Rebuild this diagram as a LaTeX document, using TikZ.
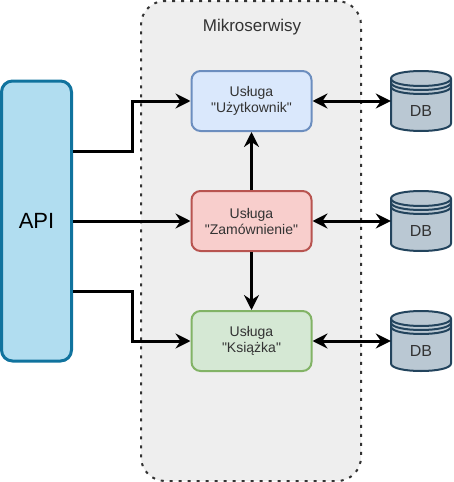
\documentclass[tikz,border=0pt]{standalone}
\usepackage{fontspec}
\setmainfont{Liberation Sans}
\newfontfamily\plainsans{Liberation Sans}
\usetikzlibrary{arrows.meta}
\definecolor{txt}{HTML}{333333}
\definecolor{dbedge}{HTML}{23445D}
\definecolor{dbfill}{HTML}{BAC8D3}
\definecolor{apiedge}{HTML}{10739E}
\definecolor{apifill}{HTML}{B1DDF0}
\definecolor{userE}{HTML}{6C8EBF}
\definecolor{userF}{HTML}{DAE8FC}
\definecolor{orderE}{HTML}{B85450}
\definecolor{orderF}{HTML}{F8CECC}
\definecolor{bookE}{HTML}{82B366}
\definecolor{bookF}{HTML}{D5E8D4}
\definecolor{msfill}{HTML}{EEEEEE}
\tikzset{
  x=1pt,y=-1pt,
  tip/.tip={Stealth[length=15pt,width=15pt,inset=5pt]},
  svc/.style={draw=#1,line width=2pt,rounded corners=9pt,minimum width=120pt,minimum height=60pt,inner sep=0pt,align=center,font=\plainsans\fontsize{14}{16}\selectfont,text=txt},
  link/.style={draw=black,line width=3pt,-tip,line join=miter},
  biway/.style={draw=black,line width=3pt,tip-tip},
  dbline/.style={draw=dbedge,line width=2pt},
  dbbox/.style={minimum width=60pt,minimum height=60pt,inner sep=0pt},
  dbtext/.style={inner sep=0pt,font=\fontsize{16}{16}\selectfont,text=txt},
}
\newcommand{\dbdraw}[3]{% name, centre x, centre y
  \begin{scope}[shift={(#2,#3)}]
    \path[dbline,fill=dbfill] (-30,-22.5) .. controls (-30,-32.5) and (30,-32.5) .. (30,-22.5)
      -- (30,22.5) .. controls (30,32.5) and (-30,32.5) .. (-30,22.5) -- cycle;
    \path[dbline] (-30,-22.5) .. controls (-30,-12.5) and (30,-12.5) .. (30,-22.5);
    \path[dbline] (-30,-18.5) .. controls (-30,-8.5) and (30,-8.5) .. (30,-18.5);
    \path[dbline] (-30,-14.5) .. controls (-30,-4.5) and (30,-4.5) .. (30,-14.5);
    \node[dbtext] (#1t) at (0,10) {DB};
  \end{scope}
  \node[dbbox] (#1) at (#2,#3) {};
}
\begin{document}
\begin{tikzpicture}
\useasboundingbox (0,0) rectangle (453,482);
\node[draw=txt,fill=msfill,line width=2pt,dash pattern=on 3pt off 6pt,rounded corners=24pt,minimum width=220pt,minimum height=480pt,inner sep=0pt] (ms) at (251,241) {};
\node[font=\fontsize{17}{18}\selectfont,text=txt] (mslabel) at (252,27) {Mikroserwisy};
\node[draw=apiedge,fill=apifill,line width=3pt,rounded corners=11pt,minimum width=70pt,minimum height=280pt,inner sep=0pt,font=\fontsize{22}{24}\selectfont,text=black] (api) at (36.5,221) {API};
\node[svc=userE,fill=userF] (user) at (251.5,101) {Usługa\\"Użytkownik"};
\node[svc=orderE,fill=orderF] (order) at (251.5,221) {Usługa\\"Zamównienie"};
\node[svc=bookE,fill=bookF] (book) at (251.5,341) {Usługa\\"Książka"};
\dbdraw{dba}{421}{101}
\dbdraw{dbb}{421}{221}
\dbdraw{dbc}{421}{341}
\draw[link] ([yshift=70pt]api.east) -- ++(59,0) |- (user.west);
\draw[link] (api.east) -- (order.west);
\draw[link] ([yshift=-70pt]api.east) -- ++(59,0) |- (book.west);
\draw[link] (order.north) -- (user.south);
\draw[link] (order.south) -- (book.north);
\draw[biway] (user.east) -- (dba.west);
\draw[biway] (order.east) -- (dbb.west);
\draw[biway] (book.east) -- (dbc.west);
\end{tikzpicture}
\end{document}
